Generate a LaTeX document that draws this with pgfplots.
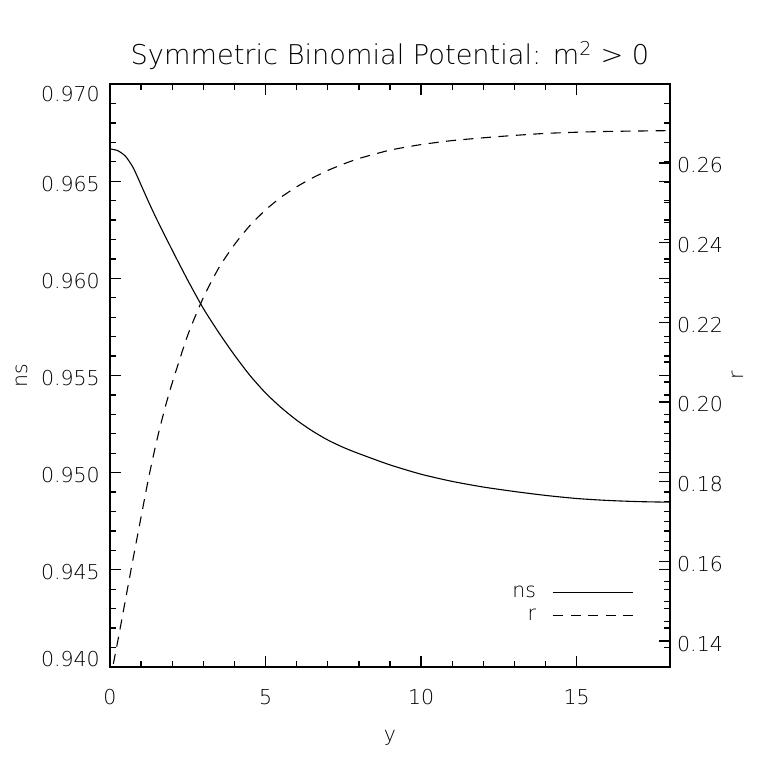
\documentclass[border=0pt]{standalone}
\usepackage{fontspec}
\setmainfont{DejaVu Sans ExtraLight}
\usepackage{pgfplots}
\pgfplotsset{compat=1.18}

\newcommand{\lbl}{\fontsize{20.5bp}{24bp}\selectfont}

\pgfplotsset{
  idlaxis/.style={
    scale only axis,
    width=560bp, height=583bp,
    xmin=0, xmax=18,
    tick align=inside,
    major tick length=11bp, minor tick length=6bp,
    axis line style={line width=1.6bp, black},
    tick style={line width=1.3bp, black},
    /pgf/number format/assume math mode=true,
    tick label style={font=\lbl},
    label style={font=\lbl},
  }
}

\begin{document}
\begin{tikzpicture}
\begin{axis}[
  idlaxis,
  name=main,
  ymin=0.940, ymax=0.970,
  xtick={0,5,10,15}, minor x tick num=4,
  ytick={0.940,0.945,0.950,0.955,0.960,0.965,0.970}, minor y tick num=4,
  xtick pos=both, ytick pos=both,
  xticklabel pos=lower, yticklabel pos=left,
  yticklabel={\ifnum\ticknum=0 \raisebox{10.5bp}{\pgfmathprintnumber{\tick}}\else\ifnum\ticknum=6 \raisebox{-7.5bp}{\pgfmathprintnumber{\tick}}\else\pgfmathprintnumber{\tick}\fi\fi},
  yticklabel style={/pgf/number format/fixed, /pgf/number format/fixed zerofill,
    /pgf/number format/precision=3,
    anchor=base east, inner sep=0pt, xshift=-10bp, yshift=-10bp},
  xticklabel style={anchor=base, inner sep=0pt, yshift=-37bp},
  xlabel={y},
  xlabel style={at={(axis description cs:0.5,-0.127)}, anchor=base},
  ylabel={ns},
  ylabel style={at={(axis description cs:-0.148,0.5)}, anchor=base},
  title={Symmetric Binomial Potential: m\textsuperscript{2} > 0},
  title style={font=\fontsize{27.2bp}{30bp}\selectfont, at={(axis description cs:0.5,1.024)}, anchor=base},
  legend plot pos=right,
  legend cell align=right,
  legend image code/.code={\draw[#1] (0bp,0bp) -- (80bp,0bp);},
  legend style={draw=none, fill=none, inner sep=0pt, font=\lbl,
    row sep=6bp, column sep=15bp,
    at={(axis cs:16.85,0.94429)}, anchor=north east},
]
% ns
\addplot[black, line width=1.1bp, smooth, tension=0.4] coordinates {
  (0,0.96666)(0.25,0.96657)(0.5,0.96628)(0.75,0.96568)(1.0,0.96480)
  (1.25,0.96390)(1.5,0.96305)(2.0,0.96145)(2.5,0.95990)(3.0,0.95845)
  (3.5,0.95720)(4.0,0.95605)(4.5,0.95500)(5.0,0.95410)(5.5,0.95335)
  (6.0,0.95270)(6.5,0.95215)(7.0,0.95168)(7.5,0.95130)(8.0,0.95098)
  (9.0,0.95040)(10,0.94992)(11,0.94955)(12,0.94926)(13,0.94903)
  (14,0.94883)(15,0.94867)(16,0.94857)(17,0.94851)(18,0.94848)
};
\addlegendentry{ns}
\addlegendimage{black, line width=1.1bp, dash pattern=on 10bp off 7.5bp}
\addlegendentry{r}
\end{axis}

\begin{axis}[
  idlaxis,
  ymin=0.1335, ymax=0.2798,
  axis y line*=right, axis x line=none,
  ytick pos=right, yticklabel pos=right,
  ytick={0.14,0.16,0.18,0.20,0.22,0.24,0.26}, minor y tick num=3,
  yticklabel style={/pgf/number format/fixed, /pgf/number format/fixed zerofill,
    /pgf/number format/precision=2,
    anchor=base west, inner sep=0pt, xshift=7bp, yshift=-10bp},
  ylabel={r},
  ylabel style={at={(axis description cs:1.1304,0.5)}, anchor=base},
]
% r
\addplot[black, line width=1.1bp, smooth, tension=0.4, dash pattern=on 10bp off 7.5bp] coordinates {
  (0,0.1300)(0.25,0.1400)(0.5,0.1505)(0.75,0.1610)(1.0,0.1712)
  (1.25,0.1813)(1.5,0.1902)(1.75,0.1980)(2.0,0.2048)(2.5,0.2168)
  (3.0,0.2262)(3.5,0.2337)(4.0,0.2395)(4.5,0.2443)(5.0,0.2482)
  (5.5,0.2514)(6.0,0.2540)(6.5,0.2562)(7.0,0.2581)(7.5,0.2597)
  (8.0,0.2611)(9.0,0.2632)(10,0.2646)(11,0.2656)(12,0.2663)
  (13,0.2669)(14,0.2674)(15,0.2677)(16,0.2679)(17,0.2680)(18,0.2681)
};
\end{axis}
\path (main.south west) ++(-110bp,-96bp);
\path (main.north east) ++(93bp,84bp);
\end{tikzpicture}
\end{document}
